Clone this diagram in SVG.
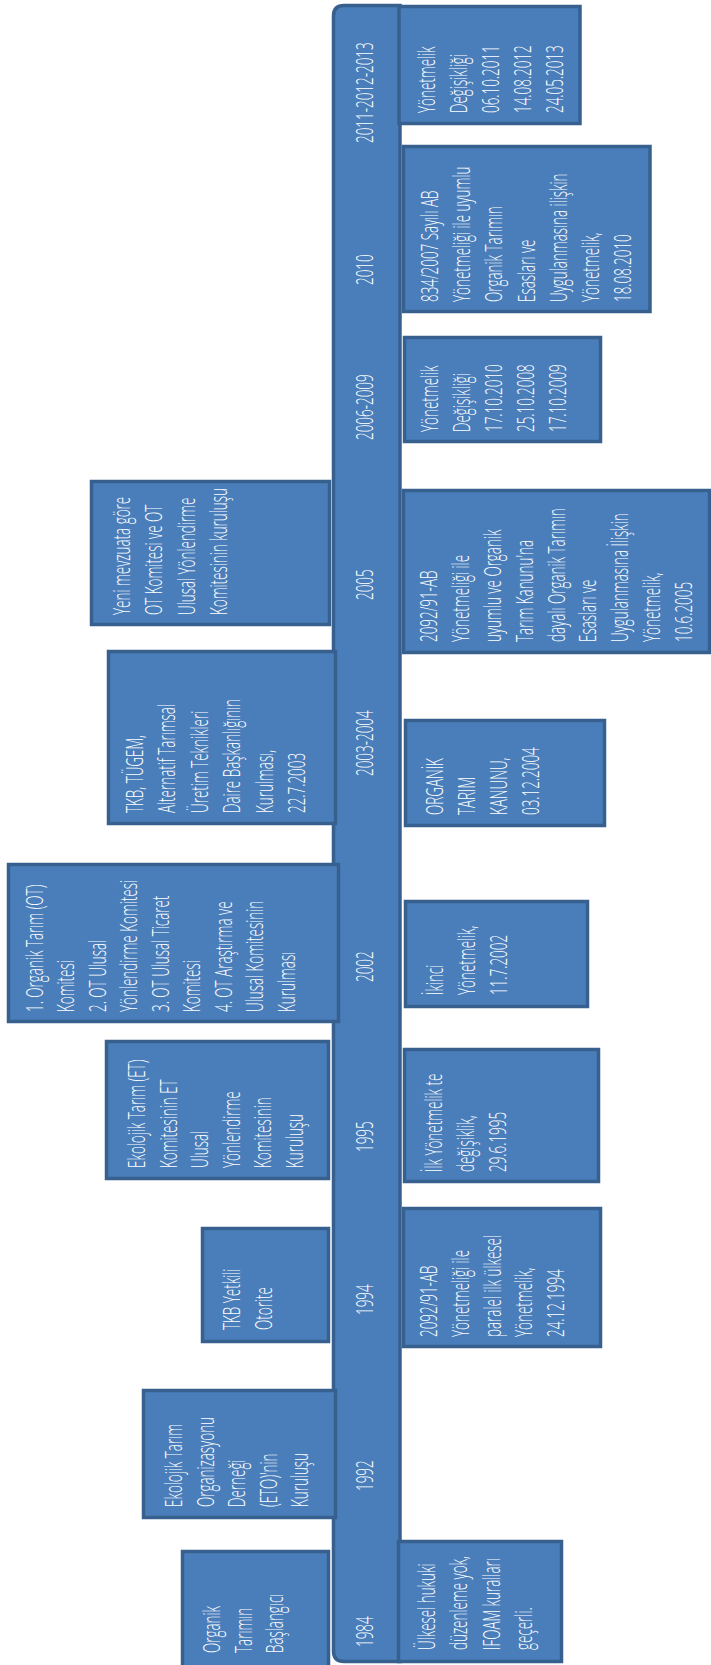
<svg xmlns="http://www.w3.org/2000/svg" width="711" height="1665" viewBox="0 0 711 1665">
<style>
.box{fill:#4a7ebb;stroke:#37608f;stroke-width:3.5}
.t{font-family:"Open Sans","Liberation Sans",Arial,sans-serif;font-weight:300;font-size:24px;fill:#ffffff}
</style>
<rect width="711" height="1665" fill="#ffffff"/>
<g id="timeline">
<path class="box" d="M400 5.5 L344 5.5 Q333.5 5.5 333.5 16 L333.5 1651 Q333.5 1661.5 344 1661.5 L400 1661.5 Z"/>
<text class="t" transform="translate(373,143) rotate(-90) scale(0.56,1)">2011-2012-2013</text>
<text class="t" transform="translate(373,285) rotate(-90) scale(0.56,1)">2010</text>
<text class="t" transform="translate(373,440) rotate(-90) scale(0.56,1)">2006-2009</text>
<text class="t" transform="translate(373,600) rotate(-90) scale(0.56,1)">2005</text>
<text class="t" transform="translate(373,776) rotate(-90) scale(0.56,1)">2003-2004</text>
<text class="t" transform="translate(373,982) rotate(-90) scale(0.56,1)">2002</text>
<text class="t" transform="translate(373,1152) rotate(-90) scale(0.56,1)">1995</text>
<text class="t" transform="translate(373,1315) rotate(-90) scale(0.56,1)">1994</text>
<text class="t" transform="translate(373,1491) rotate(-90) scale(0.56,1)">1992</text>
<text class="t" transform="translate(373,1647) rotate(-90) scale(0.56,1)">1984</text>
</g>
<g id="r1">
<rect class="box" x="399" y="6.5" width="181" height="117"/>
<text class="t" transform="translate(435,113) rotate(-90) scale(0.56,1)"><tspan x="0" y="0">Yönetmelik</tspan><tspan x="0" dy="32">Değişikliği</tspan><tspan x="0" dy="32">06.10.2011</tspan><tspan x="0" dy="32">14.08.2012</tspan><tspan x="0" dy="32">24.05.2013</tspan></text>
</g>
<g id="r2">
<rect class="box" x="403.5" y="146.5" width="246.5" height="165"/>
<text class="t" transform="translate(438,302) rotate(-90) scale(0.56,1)"><tspan x="0" y="0">834/2007 Sayılı AB</tspan><tspan x="0" dy="32.2">Yönetmeliği ile uyumlu</tspan><tspan x="0" dy="32.2">Organik Tarımın</tspan><tspan x="0" dy="32.2">Esasları ve</tspan><tspan x="0" dy="32.2">Uygulanmasına ilişkin</tspan><tspan x="0" dy="32.2">Yönetmelik,</tspan><tspan x="0" dy="32.2">18.08.2010</tspan></text>
</g>
<g id="r3">
<rect class="box" x="404.5" y="337.5" width="196" height="104"/>
<text class="t" transform="translate(438,432) rotate(-90) scale(0.56,1)"><tspan x="0" y="0">Yönetmelik</tspan><tspan x="0" dy="32">Değişikliği</tspan><tspan x="0" dy="32">17.10.2010</tspan><tspan x="0" dy="32">25.10.2008</tspan><tspan x="0" dy="32">17.10.2009</tspan></text>
</g>
<g id="r4">
<rect class="box" x="403.5" y="490.5" width="306" height="162"/>
<text class="t" transform="translate(437,642) rotate(-90) scale(0.56,1)"><tspan x="0" y="0">2092/91-AB</tspan><tspan x="0" dy="31.9">Yönetmeliği ile</tspan><tspan x="0" dy="31.9">uyumlu ve Organik</tspan><tspan x="0" dy="31.9">Tarım Kanunu'na</tspan><tspan x="0" dy="31.9">dayalı Organik Tarımın</tspan><tspan x="0" dy="31.9">Esasları ve</tspan><tspan x="0" dy="31.9">Uygulanmasına İlişkin</tspan><tspan x="0" dy="31.9">Yönetmelik,</tspan><tspan x="0" dy="31.9">10.6.2005</tspan></text>
</g>
<g id="r5">
<rect class="box" x="405.5" y="720.5" width="199" height="105"/>
<text class="t" transform="translate(443,815) rotate(-90) scale(0.56,1)"><tspan x="0" y="0">ORGANİK</tspan><tspan x="0" dy="32">TARIM</tspan><tspan x="0" dy="32">KANUNU,</tspan><tspan x="0" dy="32">03.12.2004</tspan></text>
</g>
<g id="r6">
<rect class="box" x="405.5" y="901.5" width="182" height="105"/>
<text class="t" transform="translate(443,995) rotate(-90) scale(0.56,1)"><tspan x="0" y="0">İkinci</tspan><tspan x="0" dy="32">Yönetmelik,</tspan><tspan x="0" dy="32">11.7.2002</tspan></text>
</g>
<g id="r7">
<rect class="box" x="404.5" y="1049.5" width="194" height="132"/>
<text class="t" transform="translate(442,1172) rotate(-90) scale(0.56,1)"><tspan x="0" y="0">İlk Yönetmelik te</tspan><tspan x="0" dy="32">değişiklik,</tspan><tspan x="0" dy="32">29.6.1995</tspan></text>
</g>
<g id="r8">
<rect class="box" x="403.5" y="1208.5" width="197" height="138"/>
<text class="t" transform="translate(437,1337) rotate(-90) scale(0.56,1)"><tspan x="0" y="0">2092/91-AB</tspan><tspan x="0" dy="31.8">Yönetmeliği ile</tspan><tspan x="0" dy="31.8">paralel ilk ülkesel</tspan><tspan x="0" dy="31.8">Yönetmelik,</tspan><tspan x="0" dy="31.8">24.12.1994</tspan></text>
</g>
<g id="r9">
<rect class="box" x="398.5" y="1541.5" width="163" height="120"/>
<text class="t" transform="translate(435,1650) rotate(-90) scale(0.56,1)"><tspan x="0" y="0">Ülkesel hukuki</tspan><tspan x="0" dy="32.3">düzenleme yok,</tspan><tspan x="0" dy="32.3">IFOAM kuralları</tspan><tspan x="0" dy="32.3">geçerli.</tspan></text>
</g>
<g id="l1">
<rect class="box" x="182.5" y="1551.5" width="146" height="120"/>
<text class="t" transform="translate(220,1653) rotate(-90) scale(0.56,1)"><tspan x="0" y="0">Organik</tspan><tspan x="0" dy="31.7">Tarımın</tspan><tspan x="0" dy="31.7">Başlangıcı</tspan></text>
</g>
<g id="l2">
<rect class="box" x="143.5" y="1390.5" width="192" height="127"/>
<text class="t" transform="translate(182,1507) rotate(-90) scale(0.56,1)"><tspan x="0" y="0">Ekolojik Tarım</tspan><tspan x="0" dy="31.6">Organizasyonu</tspan><tspan x="0" dy="31.6">Derneği</tspan><tspan x="0" dy="31.6">(ETO)'nin</tspan><tspan x="0" dy="31.6">Kuruluşu</tspan></text>
</g>
<g id="l3">
<rect class="box" x="202.5" y="1228.5" width="126" height="113"/>
<text class="t" transform="translate(240,1330) rotate(-90) scale(0.56,1)"><tspan x="0" y="0">TKB Yetkili</tspan><tspan x="0" dy="32">Otorite</tspan></text>
</g>
<g id="l4">
<rect class="box" x="106.5" y="1041.5" width="222" height="137"/>
<text class="t" transform="translate(145,1168) rotate(-90) scale(0.56,1)"><tspan x="0" y="0">Ekolojik Tarım (ET)</tspan><tspan x="0" dy="31.6">Komitesinin ET</tspan><tspan x="0" dy="31.6">Ulusal</tspan><tspan x="0" dy="31.6">Yönlendirme</tspan><tspan x="0" dy="31.6">Komitesinin</tspan><tspan x="0" dy="31.6">Kuruluşu</tspan></text>
</g>
<g id="l5">
<rect class="box" x="8.5" y="864.5" width="330" height="157"/>
<text class="t" transform="translate(43,1012) rotate(-90) scale(0.56,1)"><tspan x="0" y="0">1. Organik Tarım (OT)</tspan><tspan x="0" dy="31.5">Komitesi</tspan><tspan x="0" dy="31.5">2. OT Ulusal</tspan><tspan x="0" dy="31.5">Yönlendirme Komitesi</tspan><tspan x="0" dy="31.5">3. OT Ulusal Ticaret</tspan><tspan x="0" dy="31.5">Komitesi</tspan><tspan x="0" dy="31.5">4. OT Araştırma ve</tspan><tspan x="0" dy="31.5">Ulusal Komitesinin</tspan><tspan x="0" dy="31.5">Kurulması</tspan></text>
</g>
<g id="l6">
<rect class="box" x="108.5" y="651.5" width="227" height="172"/>
<text class="t" transform="translate(143,813) rotate(-90) scale(0.56,1)"><tspan x="0" y="0">TKB, TÜGEM,</tspan><tspan x="0" dy="32.4">Alternatif Tarımsal</tspan><tspan x="0" dy="32.4">Üretim Teknikleri</tspan><tspan x="0" dy="32.4">Daire Başkanlığının</tspan><tspan x="0" dy="32.4">Kurulması,</tspan><tspan x="0" dy="32.4">22.7.2003</tspan></text>
</g>
<g id="l7">
<rect class="box" x="91.5" y="481.5" width="238" height="143"/>
<text class="t" transform="translate(130,615) rotate(-90) scale(0.56,1)"><tspan x="0" y="0">Yeni mevzuata göre</tspan><tspan x="0" dy="32.5">OT Komitesi ve OT</tspan><tspan x="0" dy="32.5">Ulusal Yönlendirme</tspan><tspan x="0" dy="32.5">Komitesinin kuruluşu</tspan></text>
</g>
</svg>
